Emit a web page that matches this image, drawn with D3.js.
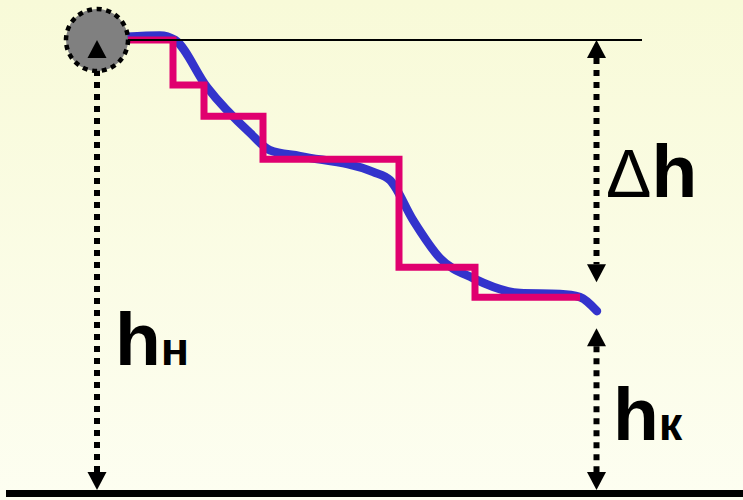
<!DOCTYPE html>
<html>
<head>
<meta charset="utf-8">
<script src="https://cdn.jsdelivr.net/npm/d3@7"></script>
<style>
  body { margin: 0; background: #fbfce6; }
  svg { display: block; }
</style>
</head>
<body>
<svg width="743" height="500"></svg>
<script>
// smooth trajectory (distance, height)
var curveX = [6, 12.6, 15.6, 22, 30.6, 34.6, 40.6, 55.2, 58.6, 63.2, 68.6, 75.2, 84.6, 92.6, 96.6, 100];
var curveH = [100.7, 101, 100, 89.6, 79.5, 75.7, 74.4, 70.9, 69.1, 60.3, 51.9, 47.5, 44.2, 44.0, 43.3, 40.2];

// stepped approximation
var stepX = [6.2, 15.2, 21.4, 33.2, 60.4, 75.6, 96.6];
var stepH = [100, 90.1, 83.2, 73.7, 49.9, 43.3, 43.3];

var hStart = 100, hEnd = 41.5;
var labelStart = "н", labelEnd = "к", labelDelta = "Δ";

var svg = d3.select("svg"),
	W = +svg.attr("width"),
	H = +svg.attr("height");

var x = d3.scaleLinear().domain([0, 100]).range([97, 597]),
	y = d3.scaleLinear().domain([0, 100]).range([493.5, 40]);

// background gradient
var grad = svg.append("defs").append("linearGradient")
	.attr("id", "bg")
	.attr("x1", 0).attr("y1", 0).attr("x2", 0).attr("y2", 1);
grad.append("stop").attr("offset", "0%").attr("stop-color", "#f8fad8");
grad.append("stop").attr("offset", "100%").attr("stop-color", "#fdfef1");

svg.append("rect")
	.attr("width", W)
	.attr("height", H)
	.attr("fill", "url(#bg)");

// ground
svg.append("line")
	.attr("x1", 6).attr("x2", W)
	.attr("y1", y(0)).attr("y2", y(0))
	.attr("stroke", "#000")
	.attr("stroke-width", 7);

var line = d3.line()
	.curve(d3.curveMonotoneX)
	.x(function(d) { return x(d[0]); })
	.y(function(d) { return y(d[1]); });

var steps = d3.line()
	.curve(d3.curveStepAfter)
	.x(function(d) { return x(d[0]); })
	.y(function(d) { return y(d[1]); });

var arrowLen = 18, arrowHalf = 9.5;

function dotted(xv, y1, y2) {
	svg.append("line")
		.attr("x1", xv).attr("x2", xv)
		.attr("y1", y1).attr("y2", y2)
		.attr("stroke", "#000")
		.attr("stroke-width", 6)
		.attr("stroke-dasharray", "6,6");
}

// dir = -1 pointing up, 1 pointing down
function arrowHead(xv, tip, dir) {
	var base = tip - dir * arrowLen;
	svg.append("path")
		.attr("d", "M" + xv + "," + tip + "L" + (xv - arrowHalf) + "," + base + "L" + (xv + arrowHalf) + "," + base + "Z")
		.attr("fill", "#000");
}

// left dotted arrow (full height) - drawn before circle so circle hides part of it
dotted(x(0), y(hStart) + arrowLen, y(0) - 3.5 - arrowLen);

svg.append("path")
	.datum(d3.zip(curveX, curveH))
	.attr("d", line)
	.attr("fill", "none")
	.attr("stroke", "#3333cc")
	.attr("stroke-width", 8.5)
	.attr("stroke-linecap", "round");

svg.append("path")
	.datum(d3.zip(stepX, stepH))
	.attr("d", steps)
	.attr("fill", "none")
	.attr("stroke", "#e0006f")
	.attr("stroke-width", 7)
	.attr("stroke-linejoin", "miter");

// start level line
svg.append("line")
	.attr("x1", x(0)).attr("x2", 642)
	.attr("y1", y(hStart)).attr("y2", y(hStart))
	.attr("stroke", "#000")
	.attr("stroke-width", 2);

// the body
svg.append("circle")
	.attr("cx", x(0))
	.attr("cy", y(hStart))
	.attr("r", 31)
	.attr("fill", "#808080")
	.attr("stroke", "#000")
	.attr("stroke-width", 4.5)
	.attr("stroke-dasharray", "5,4.7");

arrowHead(x(0), y(hStart), -1);
arrowHead(x(0), y(0) - 3.5, 1);

// right arrows
var xr = x(100) - 0.5, gap = 23;
dotted(xr, y(hStart) + arrowLen, y(hEnd) - gap - arrowLen);
arrowHead(xr, y(hStart), -1);
arrowHead(xr, y(hEnd) - gap, 1);

dotted(xr, y(hEnd) + gap + arrowLen, y(0) - 3.5 - arrowLen);
arrowHead(xr, y(hEnd) + gap, -1);
arrowHead(xr, y(0) - 3.5, 1);

// labels
function label(xv, yv, pre, sub) {
	var t = svg.append("text")
		.attr("x", xv)
		.attr("y", yv)
		.attr("font-family", "'Liberation Sans', Arial, sans-serif")
		.attr("fill", "#000");
	if (pre) t.append("tspan").attr("font-size", 68).text(pre);
	t.append("tspan").attr("font-size", 75).attr("font-weight", "bold").text("h");
	if (sub) t.append("tspan").attr("font-size", 47).attr("font-weight", "bold").text(sub);
}

label(115, 365, null, labelStart);
label(613, 440, null, labelEnd);
label(606, 197, labelDelta, null);
</script>
</body>
</html>
